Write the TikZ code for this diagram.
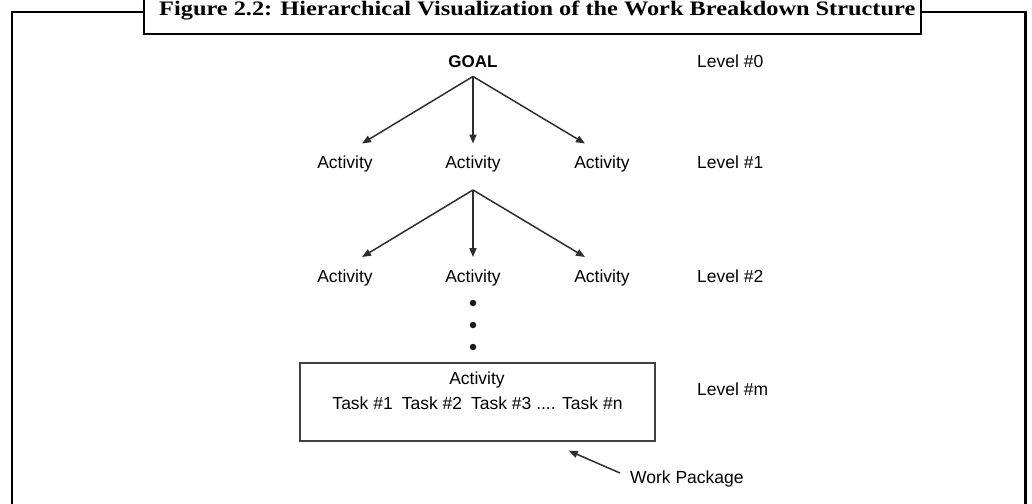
\documentclass[tikz,border=0pt]{standalone}
\usepackage{fontspec}
\usetikzlibrary{arrows.meta,calc}
\newfontfamily\sansf{Liberation Sans}
\newfontfamily\titlef{Liberation Serif}
\tikzset{
  frame/.style={line width=2.6pt, draw=black},
  txt/.style={font=\sansf\fontsize{17.5}{20}\selectfont, text=black, inner sep=0pt, text height=12.5pt, text depth=0pt},
  goaltxt/.style={txt, font=\sansf\bfseries\fontsize{17}{20}\selectfont},
  arr/.style={draw=black!82, line width=1.5pt, -{Triangle[length=9pt,width=7pt]}},
  wpbox/.style={draw=black!75, line width=1.5pt, minimum width=355pt, minimum height=78pt, inner sep=0pt},
  dotn/.style={circle, fill=black!90, inner sep=0pt, minimum size=6.5pt},
}
\begin{document}
\begin{tikzpicture}[x=1pt,y=-1pt]
\useasboundingbox (0,0) rectangle (1032,503);
% outer frame
\draw[frame] (144,12) -- (12,12) -- (12,510);
\draw[frame] (921,12) -- (1025.5,12) -- (1025.5,510);
% title box
\node[frame, minimum width=777pt, minimum height=50pt, inner sep=0pt] (tb) at (532.5,9) {};
\node[anchor=base west, inner sep=0pt] (title) at (159,15.5)
  {\resizebox{756pt}{14.5pt}{\titlef\bfseries Figure 2.2: Hierarchical Visualization of the Work Breakdown Structure}};
% level 0
\node[goaltxt] (goal) at (473,61) {GOAL};
\node[txt, anchor=west] (l0) at (697,61) {Level \#0};
% level 1
\node[txt] (a1l) at (345,162.5) {Activity};
\node[txt] (a1m) at (473,162.5) {Activity};
\node[txt] (a1r) at (602,162.5) {Activity};
\node[txt, anchor=west] (l1) at (697,162.5) {Level \#1};
% level 2
\node[txt] (a2l) at (345,276) {Activity};
\node[txt] (a2m) at (473,276) {Activity};
\node[txt] (a2r) at (602,276) {Activity};
\node[txt, anchor=west] (l2) at (697,276) {Level \#2};
% fans
\coordinate (g0) at ($(goal.south)+(0,9)$);
\draw[arr] (g0) -- ($(a1l.north)+(17,-12.5)$);
\draw[arr] (g0) -- ($(a1m.north)+(0,-12.5)$);
\draw[arr] (g0) -- ($(a1r.north)+(-17,-12.5)$);
\coordinate (g1) at ($(a1m.south)+(0,21)$);
\draw[arr] (g1) -- ($(a2l.north)+(17,-12.5)$);
\draw[arr] (g1) -- ($(a2m.north)+(0,-12.5)$);
\draw[arr] (g1) -- ($(a2r.north)+(-17,-12.5)$);
% dots
\node[dotn] (d1) at (473,303) {};
\node[dotn] (d2) at (473,325) {};
\node[dotn] (d3) at (473,347) {};
% work package box
\node[wpbox] (wp) at (477.5,402) {};
\node[txt] (wpa) at (477,378) {Activity};
\node[txt] (wpt) at (477.5,403.5) {Task \#1\hspace{9pt}Task \#2\hspace{9pt}Task \#3 .... Task \#n};
\node[txt, anchor=west] (lm) at (697,389) {Level \#m};
% work package label
\node[txt, anchor=west] (wpl) at (630,477) {Work Package};
\coordinate (wptip) at ($(wp.south east)+(-87,9)$);
\draw[arr] ($(wpl.west)+(-10,-4)$) -- (wptip);
\end{tikzpicture}
\end{document}
